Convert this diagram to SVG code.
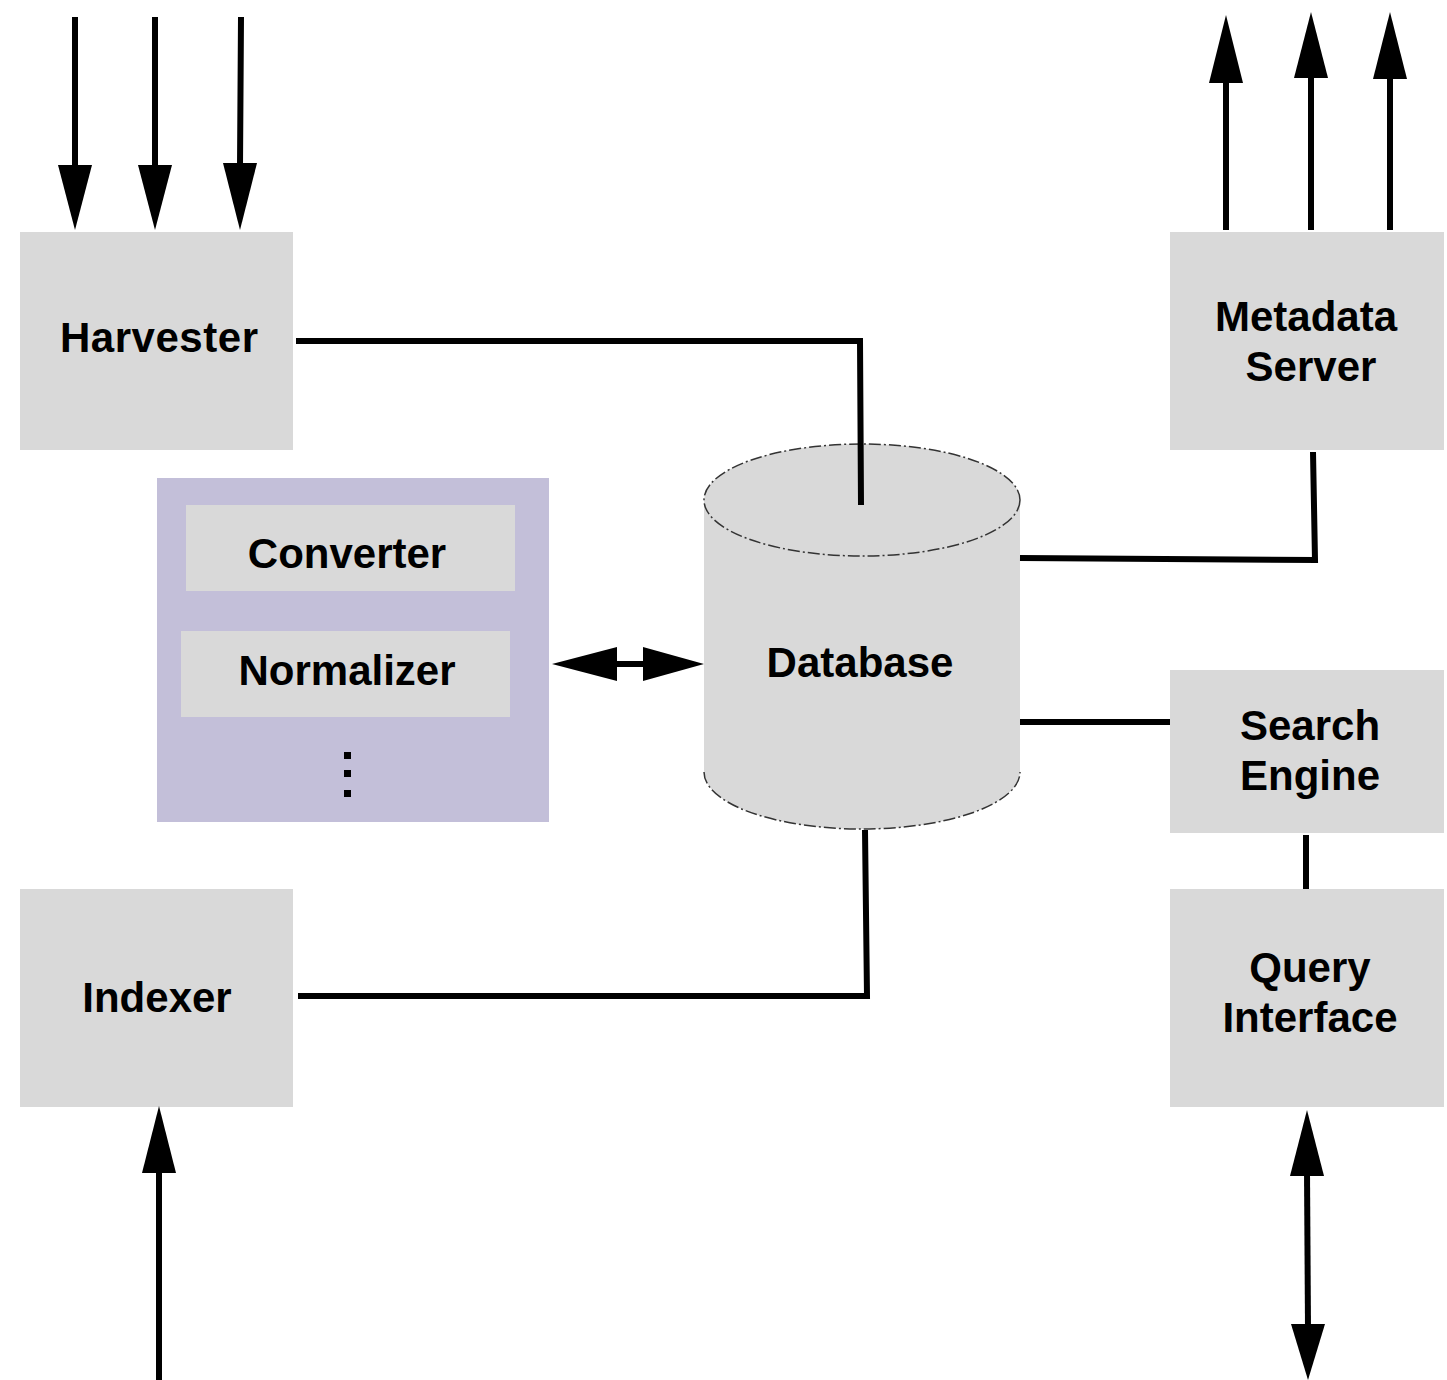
<svg xmlns="http://www.w3.org/2000/svg" width="1447" height="1380" viewBox="0 0 1447 1380">
<defs>
<style>
.box{fill:#d9d9d9}
.grp{fill:#c3bfd9}
.lbl{font-family:"Liberation Sans",Arial,sans-serif;font-weight:bold;font-size:42px;fill:#000;text-anchor:middle}
.ln{stroke:#000;stroke-width:6;fill:none}
.dbfill{fill:#d9d9d9}
.dbedge{fill:none;stroke:#333;stroke-width:1.5;stroke-dasharray:12 3 2 3}
</style>
</defs>
<rect width="1447" height="1380" fill="#fff"/>

<g id="harvester"><rect class="box" x="20" y="232" width="273" height="218"/><text class="lbl" x="159" y="352" textLength="198">Harvester</text></g>
<g id="metadata-server"><rect class="box" x="1170" y="232" width="274" height="218"/><text class="lbl" x="1306" y="331">Metadata</text><text class="lbl" x="1311" y="381">Server</text></g>
<g id="processing"><rect class="grp" x="157" y="478" width="392" height="344"/>
<g id="converter"><rect class="box" x="186" y="505" width="329" height="86"/><text class="lbl" x="347" y="568">Converter</text></g>
<g id="normalizer"><rect class="box" x="181" y="631" width="329" height="86"/><text class="lbl" x="347" y="685">Normalizer</text></g>
<g id="more" fill="#000"><rect x="344" y="752" width="7" height="7"/><rect x="344" y="770" width="7" height="7"/><rect x="344" y="790" width="7" height="7"/></g>
</g>
<g id="database"><path class="dbfill" d="M704,500 L704,772 A158,57 0 0 0 1020,772 L1020,500 A158,56 0 0 0 704,500 Z"/><ellipse class="dbedge" cx="862" cy="500" rx="158" ry="56"/><path class="dbedge" d="M704,772 A158,57 0 0 0 1020,772"/><text class="lbl" x="860" y="677">Database</text></g>
<g id="search-engine"><rect class="box" x="1170" y="670" width="274" height="163"/><text class="lbl" x="1310" y="740">Search</text><text class="lbl" x="1310" y="790">Engine</text></g>
<g id="query-interface"><rect class="box" x="1170" y="889" width="274" height="218"/><text class="lbl" x="1310" y="982">Query</text><text class="lbl" x="1310" y="1032">Interface</text></g>
<g id="indexer"><rect class="box" x="20" y="889" width="273" height="218"/><text class="lbl" x="157" y="1012">Indexer</text></g>

<g id="connectors">
<g fill="#000">
<path d="M58,165 L92,165 L75,230 Z"/><path d="M138,165 L172,165 L155,230 Z"/><path d="M223,163 L257,163 L240,230 Z"/>
<path d="M1209,83 L1243,83 L1226,15 Z"/><path d="M1294,78 L1328,78 L1311,12 Z"/><path d="M1373,79 L1407,79 L1390,12 Z"/>
<path d="M142,1173 L176,1173 L159,1106 Z"/>
<path d="M1290,1176 L1324,1176 L1307,1110 Z"/><path d="M1291,1324 L1325,1324 L1308,1380 Z"/>
<path d="M552,664 L617,647 L617,681 Z"/><path d="M704,664 L643,647 L643,681 Z"/>
</g>
<path class="ln" d="M75,17 V168 M155,17 V168 M241,17 L240,166"/>
<path class="ln" d="M1226,230 V80 M1311,230 V76 M1390,230 V76"/>
<path class="ln" d="M159,1380 V1170"/>
<path class="ln" d="M1307,1172 L1308,1328"/>
<path class="ln" d="M615,664 H645"/>
<path class="ln" d="M296,341 H860 L861,505"/>
<path class="ln" d="M1020,558 L1315,560 L1313,452"/>
<path class="ln" d="M1020,722 H1170"/>
<path class="ln" d="M1306,835 V889"/>
<path class="ln" d="M298,996 H867 L865,830"/>
</g>
</svg>
